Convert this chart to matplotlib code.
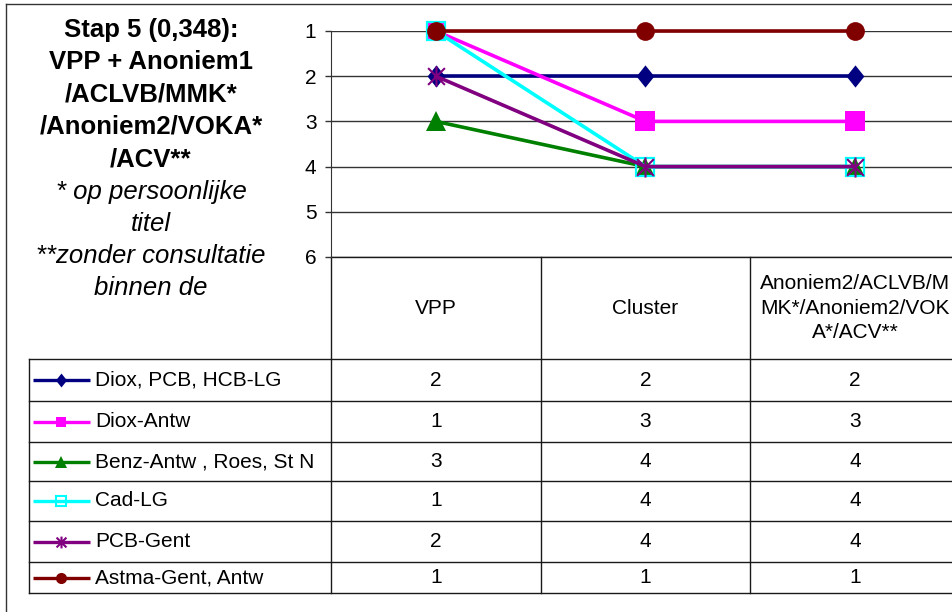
"""Stap 5 ranking chart: line chart with Excel-style data table underneath."""

import matplotlib

matplotlib.use("Agg")
import matplotlib.pyplot as plt
from matplotlib.lines import Line2D
from matplotlib.path import Path

plt.rcParams["font.family"] = ["Liberation Sans", "DejaVu Sans"]

CATEGORIES = ["VPP", "Cluster", "Anoniem2/ACLVB/M\nMK*/Anoniem2/VOK\nA*/ACV**"]
SERIES_NAMES = [
    "Diox, PCB, HCB-LG",
    "Diox-Antw",
    "Benz-Antw , Roes, St N",
    "Cad-LG",
    "PCB-Gent",
    "Astma-Gent, Antw",
]
DIOX_PCB_HCB_LG = [2, 2, 2]
DIOX_ANTW = [1, 3, 3]
BENZ_ANTW = [3, 4, 4]
CAD_LG = [1, 4, 4]
PCB_GENT = [2, 4, 4]
ASTMA_GENT = [1, 1, 1]
SERIES_VALUES = [DIOX_PCB_HCB_LG, DIOX_ANTW, BENZ_ANTW, CAD_LG, PCB_GENT, ASTMA_GENT]
Y_TICKS = [1, 2, 3, 4, 5, 6]

TITLE_BOLD = [
    "Stap 5 (0,348):",
    "VPP + Anoniem1",
    "/ACLVB/MMK*",
    "/Anoniem2/VOKA*",
    "/ACV**",
]
TITLE_ITALIC = ["* op persoonlijke", "titel", "**zonder consultatie", "binnen de"]

# excel-ish markers
DIAMOND = Path([(0, 1), (0.8, 0), (0, -1), (-0.8, 0), (0, 1)],
               [Path.MOVETO, Path.LINETO, Path.LINETO, Path.LINETO, Path.CLOSEPOLY])
ASTERISK = Path(
    [(-1, -1), (1, 1), (-1, 1), (1, -1), (0, -1.2), (0, 1.2)],
    [Path.MOVETO, Path.LINETO, Path.MOVETO, Path.LINETO, Path.MOVETO, Path.LINETO],
)

STYLES = [
    dict(color="#000080", marker=DIAMOND, ms=16, key_ms=10, mfc="#000080", mew=0),
    dict(color="#FF00FF", marker="s", ms=14, key_ms=7.5, mfc="#FF00FF", mew=0),
    dict(color="#008000", marker="^", ms=15, key_ms=8.5, mfc="#008000", mew=0),
    dict(color="#00FFFF", marker="s", ms=13.5, key_ms=7, mfc="none", mew=1.6),
    dict(color="#800080", marker=ASTERISK, ms=14.5, key_ms=8.5, mfc="none", mew=1.5),
    dict(color="#800000", marker="o", ms=13.5, key_ms=8, mfc="#800000", mew=0),
]

W, H = 953, 612
fig = plt.figure(figsize=(W / 100, H / 100), dpi=100)

# overlay in pixel coordinates for the table, title and border
ov = fig.add_axes([0, 0, 1, 1])
ov.set_xlim(0, W)
ov.set_ylim(H, 0)
ov.axis("off")

LINE = "#1a1a1a"
ov.plot([6, 6], [4, H + 5], color="#333333", lw=1.0)
ov.plot([6, W + 5], [4, 4], color="#333333", lw=1.0)

col_edges = [331, 541, 750, 960]
row_edges = [359, 401, 442, 481, 521, 562, 593]
header_top = 257
key_left, text_left = 29, 95

ov.plot([331, W + 5], [header_top, header_top], color=LINE, lw=1.0)
for x in col_edges:
    ov.plot([x, x], [header_top, row_edges[-1]], color=LINE, lw=1.0)
ov.plot([key_left, key_left], [row_edges[0], row_edges[-1]], color=LINE, lw=1.0)
for y in row_edges:
    ov.plot([key_left, W + 5], [y, y], color=LINE, lw=1.0)

centers = [(a + b) / 2 for a, b in zip(col_edges[:-1], col_edges[1:])]
header_mid = (header_top + row_edges[0]) / 2
for cx, cat in zip(centers, CATEGORIES):
    ov.text(cx, header_mid, cat, ha="center", va="center", fontsize=15,
            linespacing=1.35)

for i, (name, vals, st) in enumerate(zip(SERIES_NAMES, SERIES_VALUES, STYLES)):
    ry = (row_edges[i] + row_edges[i + 1]) / 2
    ov.add_line(Line2D([33, 90], [ry, ry], color=st["color"], lw=2.4,
                       solid_capstyle="butt"))
    ov.add_line(Line2D([61], [ry], color=st["color"], marker=st["marker"],
                       ms=st["key_ms"], mfc=st["mfc"], mec=st["color"],
                       mew=min(st["mew"], 1.5), ls="none"))
    ov.text(text_left, ry, name, ha="left", va="center", fontsize=15)
    for cx, v in zip(centers, vals):
        ov.text(cx, ry, str(v), ha="center", va="center", fontsize=15)

title_lines = [(t, "bold", "normal") for t in TITLE_BOLD] + \
              [(t, "normal", "italic") for t in TITLE_ITALIC]
for i, (t, weight, style) in enumerate(title_lines):
    ov.text(151, 30 + i * 32.3, t, ha="center", va="center", fontsize=18.5,
            fontweight=weight, fontstyle=style)

# line chart area
ax = fig.add_axes([331 / W, (H - header_top) / H, (960 - 331) / W, (header_top - 31) / H])
ax.set_facecolor("none")
ax.set_xlim(-0.5, 2.5)
ax.set_ylim(6, 1)
ax.set_yticks(Y_TICKS)
ax.set_xticks([])
ax.tick_params(axis="y", direction="out", length=4.5, width=1, color="#333333",
               pad=6, labelsize=15)
for side in ("top", "right", "bottom"):
    ax.spines[side].set_visible(False)
ax.spines["left"].set_color("#333333")
ax.yaxis.grid(True, color="#333333", lw=1.0)
ax.set_axisbelow(True)

xs = list(range(len(CATEGORIES)))
for vals, st in zip(SERIES_VALUES, STYLES):
    ax.plot(xs, vals, color=st["color"], lw=2.6, marker=st["marker"], ms=st["ms"],
            mfc=st["mfc"], mec=st["color"], mew=st["mew"], clip_on=False)

fig.savefig("out.png", dpi=100)
